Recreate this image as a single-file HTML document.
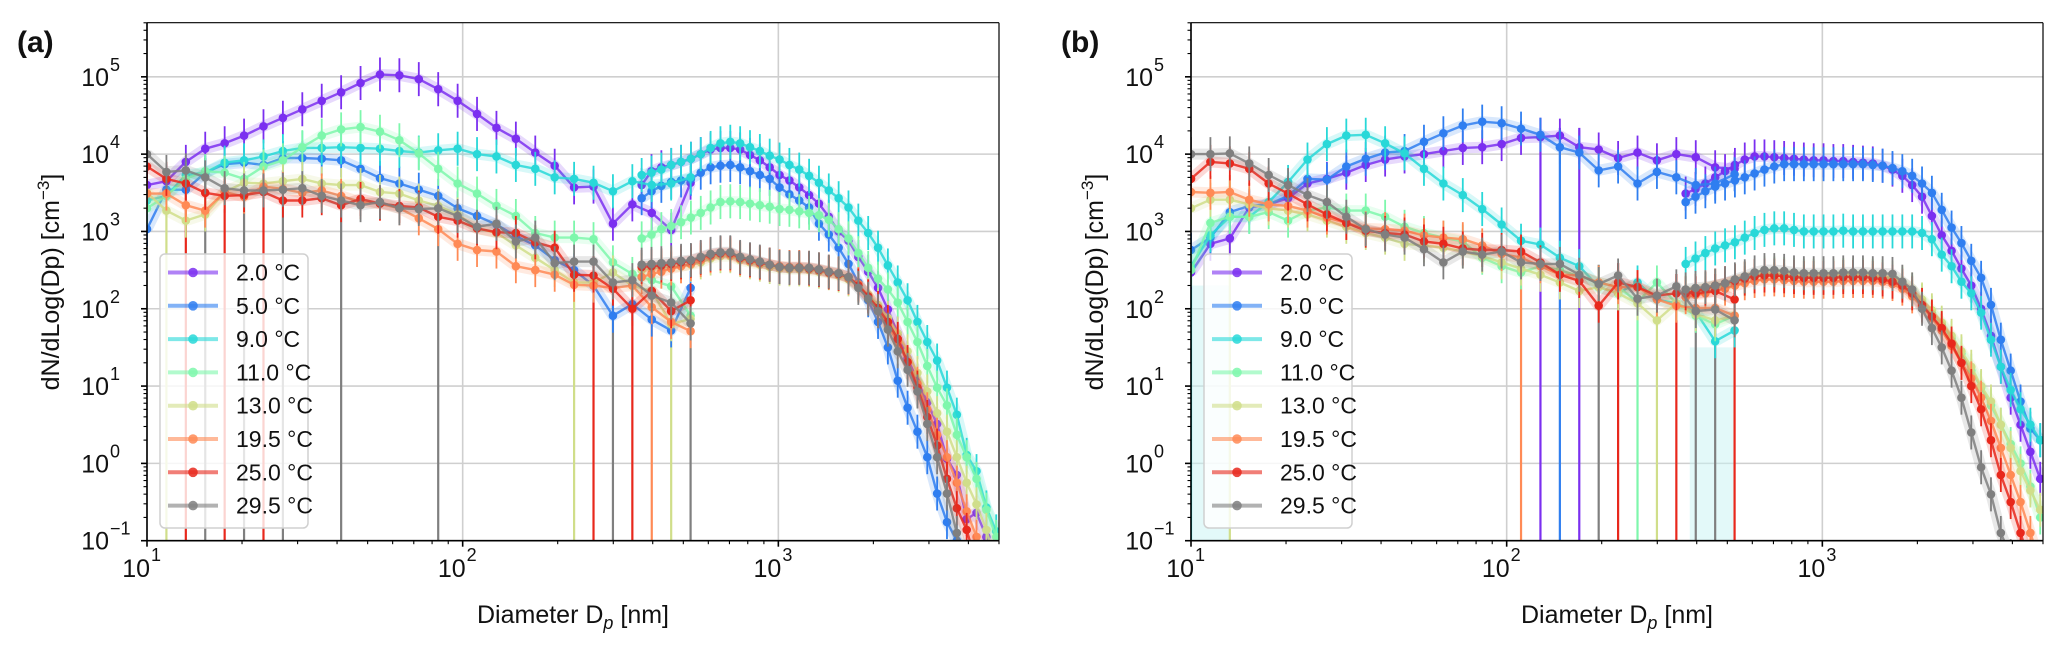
<!DOCTYPE html>
<html><head><meta charset="utf-8">
<style>
html,body{margin:0;padding:0;background:#fff;}
svg{display:block;font-family:"Liberation Sans",Arial,sans-serif;}
</style></head>
<body>
<svg id="chart" width="2067" height="652" viewBox="0 0 2067 652" xmlns="http://www.w3.org/2000/svg"></svg>
<script>
// ---------- data (log10 of dN/dLog(Dp)) ----------
const seriesLabels = ["2.0 °C","5.0 °C","9.0 °C","11.0 °C","13.0 °C","19.5 °C","25.0 °C","29.5 °C"];
const seriesColors = ["#7b2ff0","#2f7ef0","#28d8d8","#7ef7ac","#d0de8a","#ff8a55","#e8281c","#7f7f7f"];
// SMPS diameters: 10^(1+0.0615k), k=0..28 ; OPS: 10^(2.567+0.0312j), j=0..36
const smpsLogD0 = 1, smpsStep = 0.0615, smpsCount = 29;
const opsLogD0 = 2.567, opsStep = 0.0312, opsCount = 37;

const aS_2  = [3.6,3.65,3.9,4.07,4.14,4.24,4.36,4.47,4.58,4.69,4.8,4.92,5.03,5.02,4.97,4.84,4.69,4.52,4.34,4.2,4.02,3.85,3.57,3.58,3.1,3.35,3.24,3.02,3.63];
const aS_5  = [3.03,3.54,3.54,3.76,3.87,3.89,3.86,3.95,3.95,3.94,3.92,3.81,3.69,3.62,3.54,3.46,3.3,3.2,3.09,2.94,2.82,2.63,2.5,2.3,1.91,2.06,1.86,1.72,2.27];
const aS_9  = [3.4,3.46,3.73,3.76,3.89,3.92,3.97,4.04,4.08,4.08,4.09,4.08,4.07,4.04,4.02,4.05,4.07,4.0,3.97,3.86,3.81,3.7,3.68,3.63,3.52,3.65,3.6,3.62,3.7];
const aS_11 = [3.3,3.46,3.68,3.78,3.76,3.68,3.84,3.92,4.09,4.24,4.32,4.35,4.29,4.18,4.01,3.81,3.62,3.49,3.33,3.2,2.98,2.92,2.92,2.9,2.6,2.45,2.37,2.29,1.91];
const aS_13 = [3.5,3.27,3.14,3.22,3.51,3.63,3.62,3.65,3.68,3.62,3.6,3.6,3.51,3.49,3.4,3.33,3.22,3.04,2.98,2.82,2.66,2.5,2.34,2.34,2.47,2.3,2.23,1.8,1.87];
const aS_19 = [3.49,3.49,3.34,3.27,3.51,3.45,3.58,3.55,3.5,3.53,3.46,3.38,3.36,3.3,3.17,3.03,2.84,2.76,2.74,2.55,2.5,2.44,2.31,2.3,2.27,2.3,2.02,1.83,1.71];
const aS_25 = [3.84,3.68,3.62,3.5,3.46,3.47,3.51,3.4,3.4,3.43,3.34,3.42,3.36,3.33,3.31,3.19,3.14,3.04,2.99,2.98,2.86,2.79,2.44,2.43,2.26,2.0,2.23,1.97,2.11];
const aS_29 = [4.0,3.77,3.79,3.7,3.56,3.53,3.53,3.54,3.56,3.46,3.4,3.34,3.38,3.3,3.29,3.3,3.2,3.06,3.1,2.87,2.92,2.59,2.61,2.61,2.34,2.37,2.17,2.08,1.81];

const aO_2  = [3.6,3.78,3.83,3.86,3.9,3.94,4.0,4.06,4.08,4.08,4.06,3.99,3.92,3.83,3.73,3.66,3.57,3.47,3.36,3.19,3.0,2.88,2.67,2.48,2.27,1.99,1.68,1.36,1.07,0.79,0.51,0.06,-0.15,-0.72,-0.64,-0.95,-1.3];
const aO_5  = [3.43,3.52,3.59,3.64,3.66,3.68,3.76,3.83,3.85,3.86,3.83,3.78,3.73,3.68,3.57,3.48,3.4,3.31,3.1,2.96,2.79,2.58,2.34,2.11,1.83,1.5,1.07,0.72,0.41,0.08,-0.39,-0.76,-1.0,-1.3,-1.3,-1.3,-1.3];
const aO_9  = [3.73,3.76,3.8,3.86,3.9,3.94,4.0,4.08,4.14,4.16,4.14,4.09,4.04,3.98,3.93,3.86,3.8,3.72,3.63,3.53,3.43,3.31,3.14,2.98,2.79,2.56,2.34,2.11,1.83,1.57,1.33,0.98,0.63,0.11,-0.1,-0.57,-0.88];
const aO_11 = [2.91,2.96,3.03,3.07,3.12,3.18,3.24,3.31,3.38,3.39,3.38,3.36,3.34,3.32,3.29,3.28,3.26,3.24,3.21,3.15,3.03,2.91,2.72,2.53,2.39,2.25,2.08,1.83,1.57,1.26,0.98,0.75,0.37,0.08,-0.2,-0.6,-0.95];
const aO_13 = [2.5,2.52,2.53,2.54,2.55,2.57,2.6,2.65,2.68,2.68,2.63,2.6,2.57,2.54,2.52,2.51,2.51,2.5,2.48,2.46,2.43,2.38,2.3,2.18,2.05,1.88,1.68,1.45,1.17,0.93,0.65,0.41,0.08,-0.25,-0.53,-0.86,-1.3];
const aO_19 = [2.41,2.45,2.48,2.52,2.55,2.58,2.63,2.68,2.71,2.7,2.65,2.62,2.59,2.57,2.55,2.54,2.54,2.53,2.51,2.48,2.45,2.4,2.32,2.16,1.97,1.78,1.57,1.31,1.03,0.7,0.37,0.08,-0.25,-0.62,-0.95,-1.3,-1.3];
const aO_25 = [2.54,2.55,2.56,2.58,2.6,2.62,2.66,2.7,2.72,2.72,2.66,2.63,2.6,2.57,2.54,2.53,2.53,2.52,2.5,2.47,2.45,2.41,2.3,2.16,2.01,1.83,1.61,1.31,0.98,0.6,0.23,-0.2,-0.58,-0.86,-1.3,-1.3,-1.3];
const aO_29 = [2.57,2.58,2.59,2.6,2.62,2.63,2.67,2.71,2.73,2.73,2.67,2.64,2.61,2.57,2.54,2.53,2.53,2.53,2.51,2.48,2.46,2.41,2.27,2.13,1.97,1.73,1.45,1.21,0.93,0.51,0.08,-0.39,-0.9,-1.3,-1.3,-1.3,-1.3];

const bS_2  = [2.47,2.84,2.91,3.31,3.35,3.43,3.62,3.68,3.76,3.86,3.93,3.97,4.0,4.04,4.08,4.09,4.13,4.21,4.22,4.24,4.09,4.06,3.95,4.02,3.92,4.0,3.96,3.83,3.81];
const bS_5  = [2.76,2.92,3.25,3.33,3.35,3.46,3.68,3.67,3.84,3.94,4.02,4.04,4.16,4.27,4.37,4.42,4.4,4.33,4.25,4.09,4.02,3.79,3.84,3.62,3.77,3.7,3.6,3.62,3.74];
const bS_9  = [2.55,2.95,3.19,3.19,3.38,3.64,3.93,4.13,4.24,4.25,4.14,4.01,3.81,3.62,3.47,3.29,3.09,2.88,2.83,2.66,2.55,2.28,2.2,2.34,2.12,2.07,1.96,1.58,1.72];
const bS_11 = [2.5,3.11,3.19,3.19,3.25,3.14,3.27,3.31,3.27,3.27,3.19,3.06,2.98,2.92,2.87,2.66,2.55,2.47,2.55,2.5,2.42,2.34,2.28,2.09,2.34,2.07,1.91,1.8,1.91];
const bS_13 = [3.3,3.41,3.41,3.35,3.3,3.27,3.22,3.14,3.06,2.98,2.92,2.84,2.82,2.79,2.74,2.68,2.6,2.52,2.44,2.34,2.23,2.28,2.2,2.07,1.85,2.07,1.93,1.85,1.91];
const bS_19 = [3.51,3.5,3.51,3.41,3.35,3.33,3.27,3.18,3.11,3.04,3.03,3.01,2.95,2.92,2.9,2.82,2.71,2.66,2.55,2.44,2.43,2.34,2.28,2.28,2.12,2.04,2.01,2.01,1.91];
const bS_25 = [3.68,3.9,3.88,3.81,3.62,3.49,3.35,3.22,3.11,3.01,2.98,2.96,2.87,2.84,2.78,2.76,2.76,2.74,2.6,2.44,2.36,2.04,2.34,2.28,2.17,2.2,2.2,2.23,2.12];
const bS_29 = [4.0,4.0,4.01,3.88,3.73,3.6,3.47,3.38,3.19,3.03,2.96,2.92,2.77,2.6,2.74,2.7,2.74,2.6,2.58,2.58,2.44,2.32,2.43,2.13,2.17,2.29,1.97,1.99,1.85];

const bO_2  = [3.49,3.55,3.62,3.7,3.78,3.86,3.93,3.97,3.97,3.96,3.95,3.94,3.93,3.92,3.92,3.91,3.91,3.9,3.89,3.88,3.85,3.8,3.72,3.6,3.45,3.2,2.95,2.75,2.52,2.3,2.0,1.65,1.25,0.85,0.5,0.15,-0.2];
const bO_5  = [3.38,3.45,3.52,3.58,3.62,3.66,3.7,3.75,3.8,3.84,3.87,3.87,3.87,3.87,3.87,3.87,3.87,3.87,3.87,3.86,3.85,3.82,3.78,3.72,3.62,3.5,3.28,3.05,2.85,2.62,2.4,2.05,1.6,1.2,0.8,0.45,0.3];
const bO_9  = [2.58,2.65,2.72,2.78,2.82,2.86,2.92,2.98,3.02,3.04,3.04,3.02,3.0,3.0,3.0,3.0,3.01,3.0,3.0,3.0,3.0,3.0,3.0,3.0,2.98,2.9,2.7,2.55,2.35,2.2,1.95,1.6,1.25,0.95,0.7,0.5,0.3];
const bO_11 = [2.2,2.22,2.25,2.28,2.3,2.34,2.38,2.42,2.45,2.45,2.44,2.43,2.42,2.42,2.42,2.42,2.43,2.43,2.43,2.42,2.41,2.38,2.32,2.22,2.1,1.95,1.8,1.62,1.42,1.2,0.98,0.75,0.5,0.25,0,-0.3,-0.7];
const bO_13 = [2.22,2.24,2.27,2.3,2.32,2.36,2.4,2.43,2.46,2.46,2.45,2.44,2.43,2.43,2.43,2.43,2.44,2.44,2.44,2.43,2.42,2.4,2.34,2.25,2.12,1.98,1.82,1.65,1.45,1.25,1.0,0.8,0.5,0.2,-0.1,-0.35,-0.6];
const bO_19 = [2.15,2.18,2.2,2.23,2.26,2.3,2.33,2.36,2.38,2.38,2.37,2.36,2.35,2.35,2.35,2.35,2.36,2.36,2.36,2.36,2.35,2.32,2.26,2.16,2.03,1.88,1.72,1.52,1.3,1.1,0.85,0.55,0.2,-0.15,-0.5,-0.9,-1.3];
const bO_25 = [2.2,2.23,2.26,2.3,2.33,2.36,2.39,2.42,2.43,2.43,2.42,2.41,2.4,2.4,2.4,2.4,2.41,2.41,2.41,2.4,2.38,2.35,2.3,2.2,2.05,1.9,1.75,1.55,1.3,1.0,0.7,0.3,-0.15,-0.5,-0.9,-1.3,-1.3];
const bO_29 = [2.25,2.27,2.28,2.3,2.33,2.38,2.42,2.47,2.5,2.5,2.49,2.47,2.46,2.46,2.46,2.46,2.47,2.47,2.47,2.46,2.46,2.45,2.35,2.25,2.0,1.75,1.5,1.2,0.85,0.4,-0.05,-0.4,-0.9,-1.2,-1.3,-1.3,-1.3];

// error bars that reach the bottom of the axis: [seriesIndex, smpsIndex]
const aDrops = [[4,1],[6,2],[7,3],[6,4],[7,5],[6,6],[7,7],[7,10],[7,15],[4,22],[6,23],[7,24],[6,25],[5,26],[4,27],[7,28]];
const bDrops = [[2,0],[4,2],[5,17],[0,18],[1,19],[0,20],[7,21],[6,22],[3,23],[4,24],[6,25],[7,26],[7,27],[6,28]];

const yTicks = [-1,0,1,2,3,4,5];
const xTicks = [1,2,3];

// ---------- drawing ----------
const NS = "http://www.w3.org/2000/svg";
const svg = document.getElementById("chart");
function mk(tag, attrs, parent){
  const e = document.createElementNS(NS, tag);
  for (const k in attrs) e.setAttribute(k, attrs[k]);
  (parent||svg).appendChild(e);
  return e;
}
const LOGX_MIN = 1, LOGX_MAX = 3.699, LOGY_MIN = -1, LOGY_MAX = 5.70;

function drawPanel(p){
  const L=p.left, R=p.left+852, T=22.7, B=540.7;
  const xs = lx => L + (lx-LOGX_MIN)/(LOGX_MAX-LOGX_MIN)*(R-L);
  const ys = ly => B - (ly-LOGY_MIN)/(LOGY_MAX-LOGY_MIN)*(B-T);
  const g = mk("g", {});
  
  
  const grid = mk("g", {stroke:"#cfcfcf","stroke-width":1.6}, g);
  
  
  yTicks.forEach(t=>{ mk("line",{x1:L,x2:R,y1:ys(t),y2:ys(t)},grid); });
  xTicks.forEach(t=>{ mk("line",{x1:xs(t),x2:xs(t),y1:T,y2:B},grid); });
  const cp = mk("clipPath",{id:"clip-"+p.id}, g);
  mk("rect",{x:L,y:T,width:R-L,height:B-T},cp);
  const plot = mk("g",{"clip-path":"url(#clip-"+p.id+")"}, g);
  
  
  (p.fills||[]).forEach(f=>{
    const r = mk("rect",{x:xs(f[0]),y:ys(f[2]),width:xs(f[1])-xs(f[0]),height:B-ys(f[2]),fill:"#c8f4f4","fill-opacity":0.5},plot);
    
    
  });
  const smpsX = i => xs(smpsLogD0 + smpsStep*i);
  const opsX = j => xs(opsLogD0 + opsStep*j);
  p.drops.forEach(d=>{
    const s=d[0], k=d[1];
    const x = smpsX(k);
    const ln = mk("line",{x1:x,x2:x,y1:ys(p.smps[s][k]+0.25),y2:B+2,stroke:seriesColors[s],"stroke-width":2.2},plot);
    
    
  });
  for (let s=0;s<8;s++){
    const c = seriesColors[s];
    const sg = mk("g",{},plot);
    
    
    [[p.smps[s], smpsX],[p.ops[s], opsX]].forEach(pair=>{
      const vals = pair[0], fx = pair[1];
      const pts = vals.map((v,i)=>fx(i).toFixed(1)+","+ys(v).toFixed(1)).join(" ");
      mk("polyline",{points:pts,fill:"none",stroke:c,"stroke-width":11,"stroke-opacity":0.18,"stroke-linejoin":"round"},sg);
      mk("polyline",{points:pts,fill:"none",stroke:c,"stroke-width":2.4,"stroke-opacity":0.85,"stroke-linejoin":"round"},sg);
      vals.forEach((v,i)=>{
        const x=fx(i), y=ys(v);
        mk("line",{x1:x,x2:x,y1:ys(v+0.22),y2:ys(v-0.22),stroke:c,"stroke-width":1.8},sg);
        const dot = mk("circle",{cx:x,cy:y,r:4.3,fill:c},sg);
        
        
      });
    });
  }
  const ax = mk("g",{stroke:"#000","stroke-width":1.6,fill:"none"},g);
  
  
  mk("line",{x1:L,x2:L,y1:T,y2:B},ax);
  mk("line",{x1:L,x2:R,y1:B,y2:B},ax);
  mk("line",{x1:L,x2:R,y1:T,y2:T,"stroke-width":1.2},ax);
  mk("line",{x1:R,x2:R,y1:T,y2:B,"stroke-width":1.2},ax);
  for (let d=-1; d<=5; d++){
    mk("line",{x1:L-6,x2:L,y1:ys(d),y2:ys(d)},ax);
    for (let m=2;m<=9;m++){
      const ly = d+Math.log10(m);
      if (ly<=LOGY_MAX) mk("line",{x1:L-3.5,x2:L,y1:ys(ly),y2:ys(ly),"stroke-width":1.1},ax);
    }
  }
  yTicks.forEach(t=>{
    const tx = mk("text",{x:L-38,y:ys(t)+9,"font-size":25,"text-anchor":"end",fill:"#111"},g);
    tx.textContent = "10";
    
    
    const sup = mk("text",{x:L-37,y:ys(t)-6,"font-size":18,"text-anchor":"start",fill:"#111"},g);
    sup.textContent = t<0 ? "\u2212"+Math.abs(t) : String(t);
  });
  for (let d=1; d<=3; d++){
    mk("line",{x1:xs(d),x2:xs(d),y1:B,y2:B+6},ax);
    for (let m=2;m<=9;m++){
      const lx = d+Math.log10(m);
      if (lx<=LOGX_MAX) mk("line",{x1:xs(lx),x2:xs(lx),y1:B,y2:B+3.5,"stroke-width":1.1},ax);
    }
  }
  xTicks.forEach(t=>{
    const tx = mk("text",{x:xs(t)+3,y:577,"font-size":25,"text-anchor":"end",fill:"#111"},g);
    tx.textContent = "10";
    
    
    const sup = mk("text",{x:xs(t)+4,y:561,"font-size":18,fill:"#111"},g);
    sup.textContent = String(t);
  });
  const xt = mk("text",{x:L+426,y:623,"font-size":25,"text-anchor":"middle",fill:"#111"},g);
  
  
  xt.innerHTML = 'Diameter D<tspan font-size="18" font-style="italic" dy="6">p</tspan><tspan dy="-6"> [nm]</tspan>';
  const yt = mk("text",{x:0,y:0,"font-size":25,"text-anchor":"middle",fill:"#111",transform:"translate("+(L-88)+",282) rotate(-90)"},g);
  
  
  yt.innerHTML = 'dN/dLog(Dp) [cm<tspan font-size="17" dy="-10">\u22123</tspan><tspan dy="10">]</tspan>';
  const pl = mk("text",{x:p.left-130,y:52,"font-size":30,"font-weight":"bold",fill:"#111"},g);
  
  
  pl.textContent = p.label;
  const lg = mk("g",{},g);
  
  
  mk("rect",{x:L+13,y:254,width:148,height:274,rx:5,fill:"#fff","fill-opacity":0.8,stroke:"#d0d0d0","stroke-width":1.5},lg);
  seriesLabels.forEach((lab,i)=>{
    const y = 272.5 + i*33.3;
    const c = seriesColors[i];
    const e = mk("g",{},lg);
    
    
    mk("line",{x1:L+21,x2:L+71,y1:y,y2:y,stroke:c,"stroke-width":4,"stroke-opacity":0.6},e);
    mk("circle",{cx:L+46,cy:y,r:4.8,fill:c,"fill-opacity":0.85},e);
    const t = mk("text",{x:L+89,y:y+8,"font-size":23,fill:"#111"},e);
    t.textContent = lab;
  });
}

drawPanel({id:"panel-a", label:"(a)", left:147,
  smps:[aS_2,aS_5,aS_9,aS_11,aS_13,aS_19,aS_25,aS_29],
  ops:[aO_2,aO_5,aO_9,aO_11,aO_13,aO_19,aO_25,aO_29],
  drops:aDrops});
drawPanel({id:"panel-b", label:"(b)", left:1191,
  smps:[bS_2,bS_5,bS_9,bS_11,bS_13,bS_19,bS_25,bS_29],
  ops:[bO_2,bO_5,bO_9,bO_11,bO_13,bO_19,bO_25,bO_29],
  drops:bDrops,
  fills:[[1,1.125,2.3],[2.58,2.72,1.5]]});
</script>
</body></html>
